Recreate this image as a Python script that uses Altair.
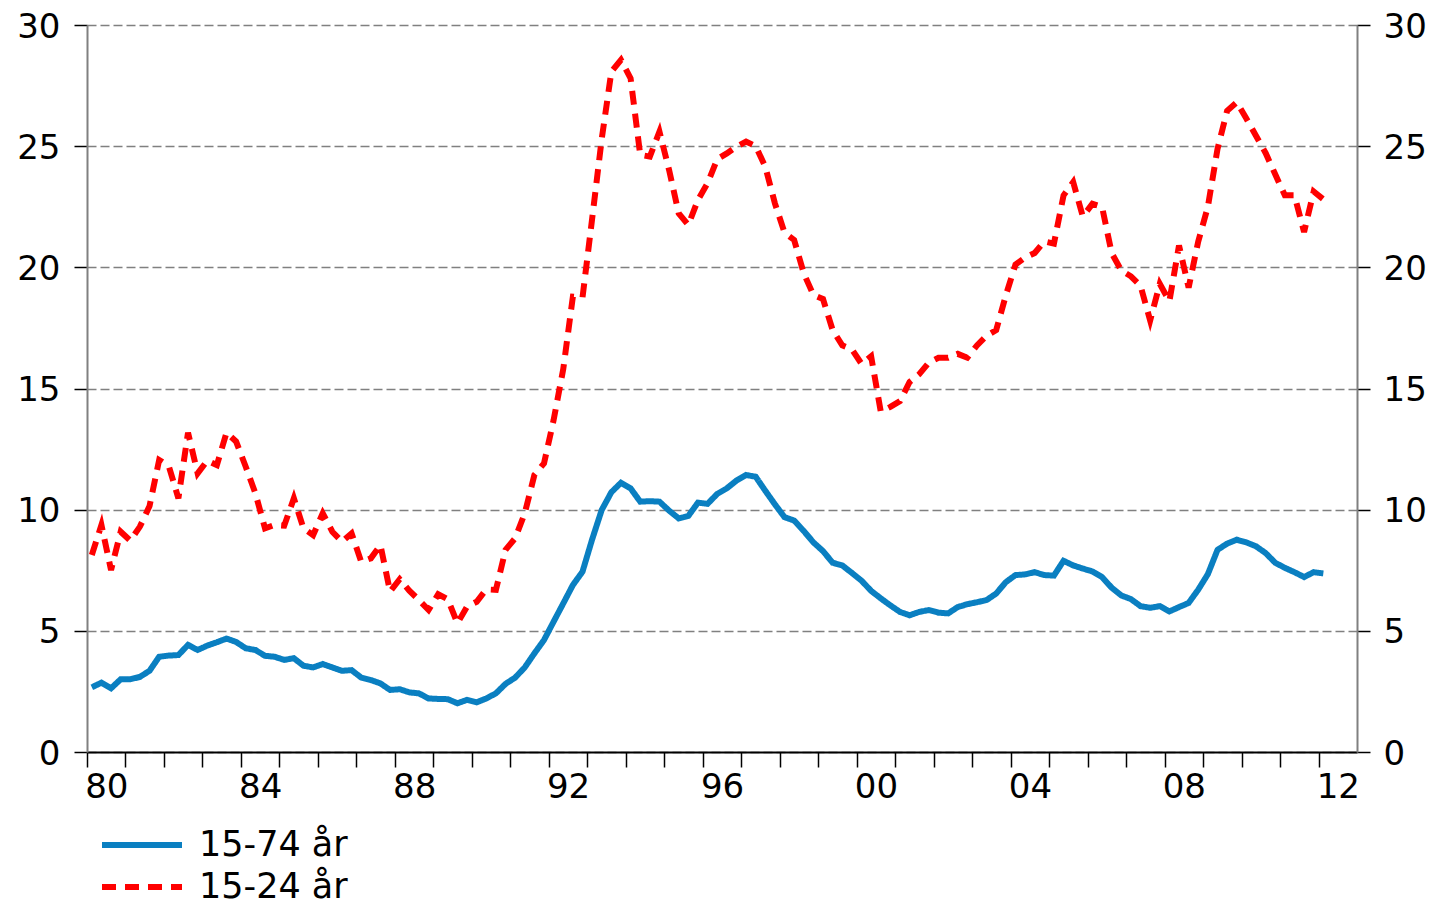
import altair as alt
import pandas as pd

start_year = 1980
series_names = ["15-74 år", "15-24 år"]
series_colors = ["#0a7fc1", "#ff0000"]

# quarterly unemployment rate, 1980Q1 - 2012Q1
total_15_74 = [
    2.67, 2.86, 2.63, 3.00,
    3.00, 3.10, 3.35, 3.93,
    3.98, 4.00, 4.42, 4.21,
    4.39, 4.53, 4.68, 4.54,
    4.28, 4.21, 3.97, 3.93,
    3.80, 3.87, 3.56, 3.49,
    3.63, 3.49, 3.35, 3.38,
    3.07, 2.97, 2.83, 2.56,
    2.59, 2.46, 2.42, 2.21,
    2.19, 2.18, 2.01, 2.15,
    2.05, 2.21, 2.42, 2.81,
    3.07, 3.49, 4.07, 4.62,
    5.38, 6.13, 6.89, 7.44,
    8.77, 9.99, 10.72, 11.11,
    10.88, 10.33, 10.35, 10.33,
    9.96, 9.64, 9.74, 10.29,
    10.24, 10.65, 10.88, 11.20,
    11.43, 11.36, 10.78, 10.22,
    9.69, 9.55, 9.12, 8.65,
    8.29, 7.81, 7.70, 7.39,
    7.07, 6.65, 6.34, 6.05,
    5.78, 5.64, 5.78, 5.86,
    5.75, 5.72, 5.98, 6.10,
    6.18, 6.27, 6.54, 7.01,
    7.30, 7.33, 7.42, 7.30,
    7.28, 7.89, 7.70, 7.57,
    7.45, 7.22, 6.78, 6.46,
    6.31, 6.02, 5.95, 6.02,
    5.80, 5.98, 6.15, 6.70,
    7.34, 8.34, 8.60, 8.76,
    8.65, 8.49, 8.21, 7.81,
    7.60, 7.42, 7.22, 7.42,
    7.37,
]

youth_15_24 = [
    8.13, 9.37, 7.51, 9.09,
    8.72, 9.30, 10.15, 12.05,
    11.80, 10.47, 13.18, 11.50,
    12.02, 11.84, 13.18, 12.81,
    11.77, 10.68, 9.23, 9.37,
    9.34, 10.47, 9.23, 8.95,
    9.85, 9.09, 8.68, 9.02,
    7.85, 7.99, 8.54, 6.62,
    7.13, 6.66, 6.27, 5.86,
    6.51, 6.30, 5.31, 6.00,
    6.20, 6.71, 6.69, 8.34,
    8.82, 9.85, 11.43, 11.91,
    13.70, 15.80, 18.79, 18.75,
    22.00, 25.30, 28.07, 28.56,
    27.80, 24.64, 24.57, 25.60,
    24.02, 22.23, 21.75, 22.78,
    23.47, 24.46, 24.70, 24.98,
    25.19, 25.00, 24.15, 22.64,
    21.43, 21.13, 19.75, 18.86,
    18.69, 17.41, 16.78, 16.62,
    16.02, 16.33, 14.05, 14.24,
    14.48, 15.27, 15.59, 16.07,
    16.27, 16.27, 16.43, 16.27,
    16.78, 17.18, 17.41, 18.84,
    20.11, 20.40, 20.59, 21.07,
    20.98, 22.97, 23.52, 22.10,
    22.62, 22.50, 20.59, 19.87,
    19.63, 19.24, 17.81, 19.32,
    18.60, 20.90, 19.16, 21.07,
    22.50, 24.88, 26.46, 26.81,
    26.14, 25.43, 24.72, 23.84,
    22.97, 22.97, 21.46, 23.13,
    22.81,
]

tick_years = list(range(1980, 2013))
y_ticks = [0, 5, 10, 15, 20, 25, 30]

rows = []
for i, (a, b) in enumerate(zip(total_15_74, youth_15_24)):
    t = start_year + (i + 0.5) / 4.0
    rows.append({"t": t, "serie": series_names[0], "v": a, "ord": 0})
    rows.append({"t": t, "serie": series_names[1], "v": b, "ord": 1})
df = pd.DataFrame(rows)

FONT = "DejaVu Sans"

x_scale = alt.Scale(domain=[1980, 2013], nice=False, zero=False)
x_axis = alt.Axis(
    values=tick_years,
    labelExpr="datum.value % 4 == 0 ? substring(toString(datum.value), 2, 4) : ''",
    labelOffset=19.25,
    labelFlush=False,
    labelOverlap=False,
    tickSize=15,
    tickWidth=1.5,
    tickColor="black",
    domainColor="black",
    domainWidth=2,
    labelFontSize=34,
    labelFont=FONT,
    labelColor="black",
    labelPadding=3,
    grid=False,
    title=None,
)
x_enc = alt.X("t:Q", scale=x_scale, axis=x_axis)

y_scale = alt.Scale(domain=[0, 30], nice=False, zero=True)

legend = alt.Legend(
    orient="none",
    legendX=12,
    legendY=800,
    title=None,
    labelFontSize=35,
    labelFont=FONT,
    labelColor="black",
    symbolType="stroke",
    symbolSize=6400,
    symbolStrokeWidth=6,
    labelOffset=14,
    clipHeight=40,
    rowPadding=2,
    padding=0,
)

lines = alt.Chart(df).mark_line(strokeWidth=6, strokeCap="butt", strokeJoin="miter").encode(
    x=x_enc,
    y=alt.Y(
        "v:Q",
        scale=y_scale,
        axis=alt.Axis(
            values=y_ticks,
            orient="left",
            grid=True,
            gridColor="#808080",
            gridDash=[9, 4],
            gridWidth=1.5,
            domainColor="#808080",
            domainWidth=2,
            tickColor="black",
            tickSize=13,
            tickWidth=1.5,
            labelFontSize=34,
            labelFont=FONT,
            labelColor="black",
            labelPadding=14,
            labelOffset=2,
            title=None,
        ),
    ),
    color=alt.Color(
        "serie:N",
        scale=alt.Scale(domain=series_names, range=series_colors),
        sort=series_names,
        legend=legend,
    ),
    strokeDash=alt.StrokeDash(
        "serie:N",
        scale=alt.Scale(domain=series_names, range=[[1, 0], [14, 9]]),
        sort=series_names,
        legend=legend,
    ),
    order=alt.Order("ord:Q"),
)

right_axis = alt.Chart(df).mark_line(opacity=0).encode(
    x=x_enc,
    y=alt.Y(
        "v:Q",
        scale=y_scale,
        axis=alt.Axis(
            values=y_ticks,
            orient="right",
            grid=False,
            domainColor="#808080",
            domainWidth=2,
            tickColor="black",
            tickSize=13,
            tickWidth=1.5,
            labelFontSize=34,
            labelFont=FONT,
            labelColor="black",
            labelPadding=13,
            labelOffset=2,
            title=None,
        ),
    ),
    detail="serie:N",
)

chart = (
    alt.layer(lines, right_axis)
    .resolve_scale(y="shared")
    .resolve_axis(y="independent")
    .properties(
        width=1270,
        height=727,
        autosize=alt.AutoSizeParams(type="none"),
        padding={"left": 79, "top": 17, "right": 70, "bottom": 156},
        background="white",
    )
    .configure_view(stroke=None)
)

chart.save("out.html", embed_options={"renderer": "svg", "actions": False})
